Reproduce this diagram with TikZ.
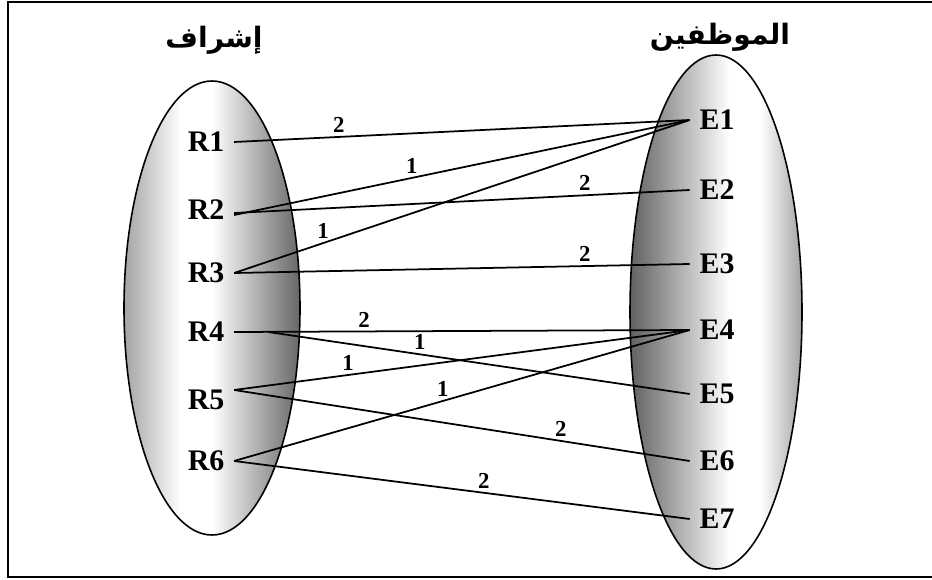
\documentclass[tikz,border=0pt]{standalone}
\usepackage{fontspec}
\setmainfont{Liberation Serif}
\newfontfamily\arabicfont[Script=Arabic]{DejaVu Sans}
\TeXXeTstate=1

%Verlaeufe fuer die Mengen
\pgfdeclarehorizontalshading{linksmenge}{100bp}{color(0bp)=(black!36); color(25bp)=(black!36);
  color(41bp)=(white); color(50bp)=(white); color(75bp)=(black!60); color(100bp)=(black!60)}
\pgfdeclarehorizontalshading{rechtsmenge}{100bp}{color(0bp)=(black!62); color(25bp)=(black!62);
  color(54bp)=(white); color(63bp)=(white); color(75bp)=(black!36); color(100bp)=(black!36)}

\begin{document}
\begin{tikzpicture}
    [
    x=0.02cm, y=-0.02cm, line width=1pt,
    %Voreinstellungen fuer Knoten und Gewichte
    elem/.style={font=\fontsize{17}{19}\selectfont\bfseries, inner sep=0.18cm},
    wt/.style={font=\fontsize{13}{15}\selectfont\bfseries, above, inner sep=2pt},
    titel/.style={font=\arabicfont\fontsize{16}{18}\selectfont\bfseries}
    ]
    
    %Rahmen
    \useasboundingbox (0,0) rectangle (932,580);
    \draw[line width=1.2pt] (8,2) rectangle (945,577);
    
    %Mengen
    \draw[shading=linksmenge, line width=0.9pt] (212,308) ellipse [x radius=88, y radius=227];
    \draw[shading=rechtsmenge, line width=0.9pt] (716,312) ellipse [x radius=86, y radius=257];
    
    %Ueberschriften
    \node[titel] (ishraf) at (214,40) {\beginR إشراف\endR};
    \node[titel] (muwazzafin) at (720,37) {\beginR الموظفين\endR};
    
    %Elemente links
    \foreach \i/\y in {1/142,2/210,3/273,4/332,5/400,6/461}
    \node[elem] (R\i) at (206,\y) {R\i};
    
    %Elemente rechts
    \foreach \i/\y in {1/120,2/190,3/264,4/330,5/394,6/461,7/519}
    \node[elem] (E\i) at (717,\y) {E\i};
    
    %Kanten
    \draw (R1.east) -- node[wt, pos=0.23] {2} (E1.west);
    \draw ([yshift=-0.1cm]R2.east) -- node[wt, pos=0.39] {1} (E1.west);
    \draw ([yshift=-0.06cm]R2.east) -- node[wt, pos=0.77] {2} (E2.west);
    \draw (R3.east) -- node[wt, pos=0.195] {1} (E1.west);
    \draw (R3.east) -- node[wt, pos=0.77] {2} (E3.west);
    \draw (R4.east) -- node[wt, pos=0.285] {2} (E4.west);
    \draw ([xshift=0.68cm]R4.east) -- node[wt, pos=0.36] {1} (E5.west);
    \draw ([yshift=0.2cm]R5.east) -- node[wt, pos=0.25] {1} (E4.west);
    \draw ([yshift=0.2cm]R5.east) -- node[wt, pos=0.717] {2} (E6.west);
    \draw (R6.east) -- node[wt, pos=0.458] {1} (E4.west);
    \draw (R6.east) -- node[wt, pos=0.548] {2} (E7.west);
\end{tikzpicture}
\end{document}
